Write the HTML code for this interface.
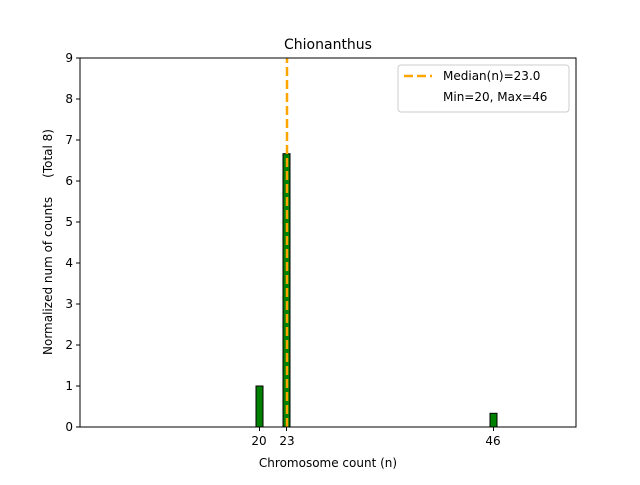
<!DOCTYPE html>
<html><head><style>body{margin:0;background:#fff}</style></head><body>
<svg width="640" height="480" xmlns="http://www.w3.org/2000/svg" font-family="DejaVu Sans, sans-serif" font-size="12">
<rect width="640" height="480" fill="#fff"/>
<rect x="256" y="386" width="7" height="41" fill="green" stroke="#000" stroke-width="1"/>
<rect x="283" y="153.7" width="7" height="273.3" fill="green" stroke="#000" stroke-width="1"/>
<rect x="490" y="413.3" width="7" height="13.7" fill="green" stroke="#000" stroke-width="1"/>
<line x1="287" y1="427" x2="287" y2="58" stroke="orange" stroke-width="2.5" stroke-dasharray="9,4"/>
<rect x="80" y="58" width="496" height="369" fill="none" stroke="#000" stroke-width="1"/>
<g text-anchor="end">
<line x1="76" y1="427" x2="80" y2="427" stroke="#000"/><text x="73" y="431">0</text>
<line x1="76" y1="386" x2="80" y2="386" stroke="#000"/><text x="73" y="390">1</text>
<line x1="76" y1="345" x2="80" y2="345" stroke="#000"/><text x="73" y="349">2</text>
<line x1="76" y1="304" x2="80" y2="304" stroke="#000"/><text x="73" y="308">3</text>
<line x1="76" y1="263" x2="80" y2="263" stroke="#000"/><text x="73" y="267">4</text>
<line x1="76" y1="222" x2="80" y2="222" stroke="#000"/><text x="73" y="226">5</text>
<line x1="76" y1="181" x2="80" y2="181" stroke="#000"/><text x="73" y="185">6</text>
<line x1="76" y1="140" x2="80" y2="140" stroke="#000"/><text x="73" y="144">7</text>
<line x1="76" y1="99" x2="80" y2="99" stroke="#000"/><text x="73" y="103">8</text>
<line x1="76" y1="58" x2="80" y2="58" stroke="#000"/><text x="73" y="62">9</text>
</g>
<g text-anchor="middle">
<line x1="259.5" y1="427" x2="259.5" y2="431" stroke="#000"/><text x="259" y="445">20</text>
<line x1="286.5" y1="427" x2="286.5" y2="431" stroke="#000"/><text x="287" y="445">23</text>
<line x1="493.5" y1="427" x2="493.5" y2="431" stroke="#000"/><text x="493" y="445">46</text>
<text x="328" y="467">Chromosome count (n)</text>
<text x="328" y="49" font-size="14">Chionanthus</text>
</g>
<text transform="translate(52,242) rotate(-90)" text-anchor="middle" style="white-space:pre" xml:space="preserve">Normalized num of counts     (Total 8)</text>
<rect x="398" y="65" width="171" height="47" rx="3" fill="#fff" stroke="#ccc"/>
<line x1="404" y1="76" x2="432" y2="76" stroke="orange" stroke-width="2.5" stroke-dasharray="9,4"/>
<text x="443" y="80">Median(n)=23.0</text>
<text x="443" y="101">Min=20, Max=46</text>
</svg>
</body></html>
